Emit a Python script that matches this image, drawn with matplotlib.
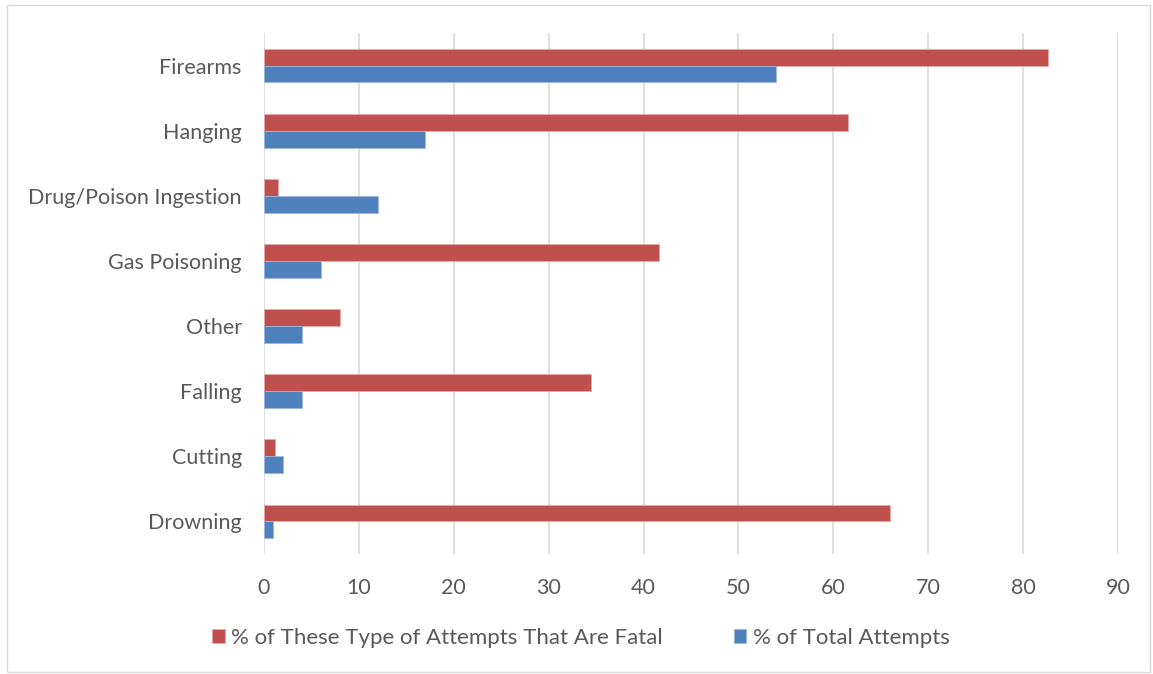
import matplotlib
matplotlib.use("Agg")
import matplotlib.pyplot as plt
import numpy as np
from matplotlib.patches import Rectangle

categories = ["Firearms", "Hanging", "Drug/Poison Ingestion", "Gas Poisoning",
              "Other", "Falling", "Cutting", "Drowning"]
fatal_pct = [82.6, 61.5, 1.5, 41.6, 8.0, 34.5, 1.2, 66.0]
total_pct = [54.0, 17.0, 12.0, 6.0, 4.0, 4.0, 2.0, 1.0]
x_ticks = [0, 10, 20, 30, 40, 50, 60, 70, 80, 90]
series_names = ["% of These Type of Attempts That Are Fatal", "% of Total Attempts"]

RED = "#C0504D"
BLUE = "#4F81BD"
TXT = "#595959"

plt.rcParams['font.family'] = ['Lato', 'DejaVu Sans']

fig = plt.figure(figsize=(11.53, 6.74), dpi=100)
ax = fig.add_axes([264/1153, (674-554)/674, (1118-264)/1153, (554-33)/674])

y = np.arange(len(categories))
h = 0.26
ax.barh(y - h/2, fatal_pct, height=h, color=RED, label=series_names[0], zorder=3,
        edgecolor="#E6A9A7", linewidth=0.6)
ax.barh(y + h/2, total_pct, height=h, color=BLUE, label=series_names[1], zorder=3,
        edgecolor="#9CB7DA", linewidth=0.6)

ax.set_ylim(len(categories) - 0.5, -0.5)
ax.set_xlim(0, 90)
ax.set_xticks(x_ticks)
ax.set_yticks(y)
ax.set_yticklabels(categories)
ax.grid(axis='x', color="#D9D9D9", linewidth=1.2, zorder=0)
for s in ax.spines.values():
    s.set_visible(False)
ax.tick_params(axis='both', length=0, colors=TXT, labelsize=15.5)
ax.tick_params(axis='y', pad=16)
ax.tick_params(axis='x', pad=17)

leg = fig.legend(loc='center', bbox_to_anchor=(581/1153, 1 - 638/674), ncol=2,
                 frameon=False, fontsize=16, handlelength=0.55, handleheight=0.6,
                 handletextpad=0.3, columnspacing=3.2)
for t in leg.get_texts():
    t.set_color(TXT)

fig.patches.append(Rectangle((7/1153, 2/674), 1143/1153, 667/674, transform=fig.transFigure,
                             fill=False, edgecolor="#D9D9D9", linewidth=1))

fig.savefig("out.png", dpi=100, facecolor="white")
